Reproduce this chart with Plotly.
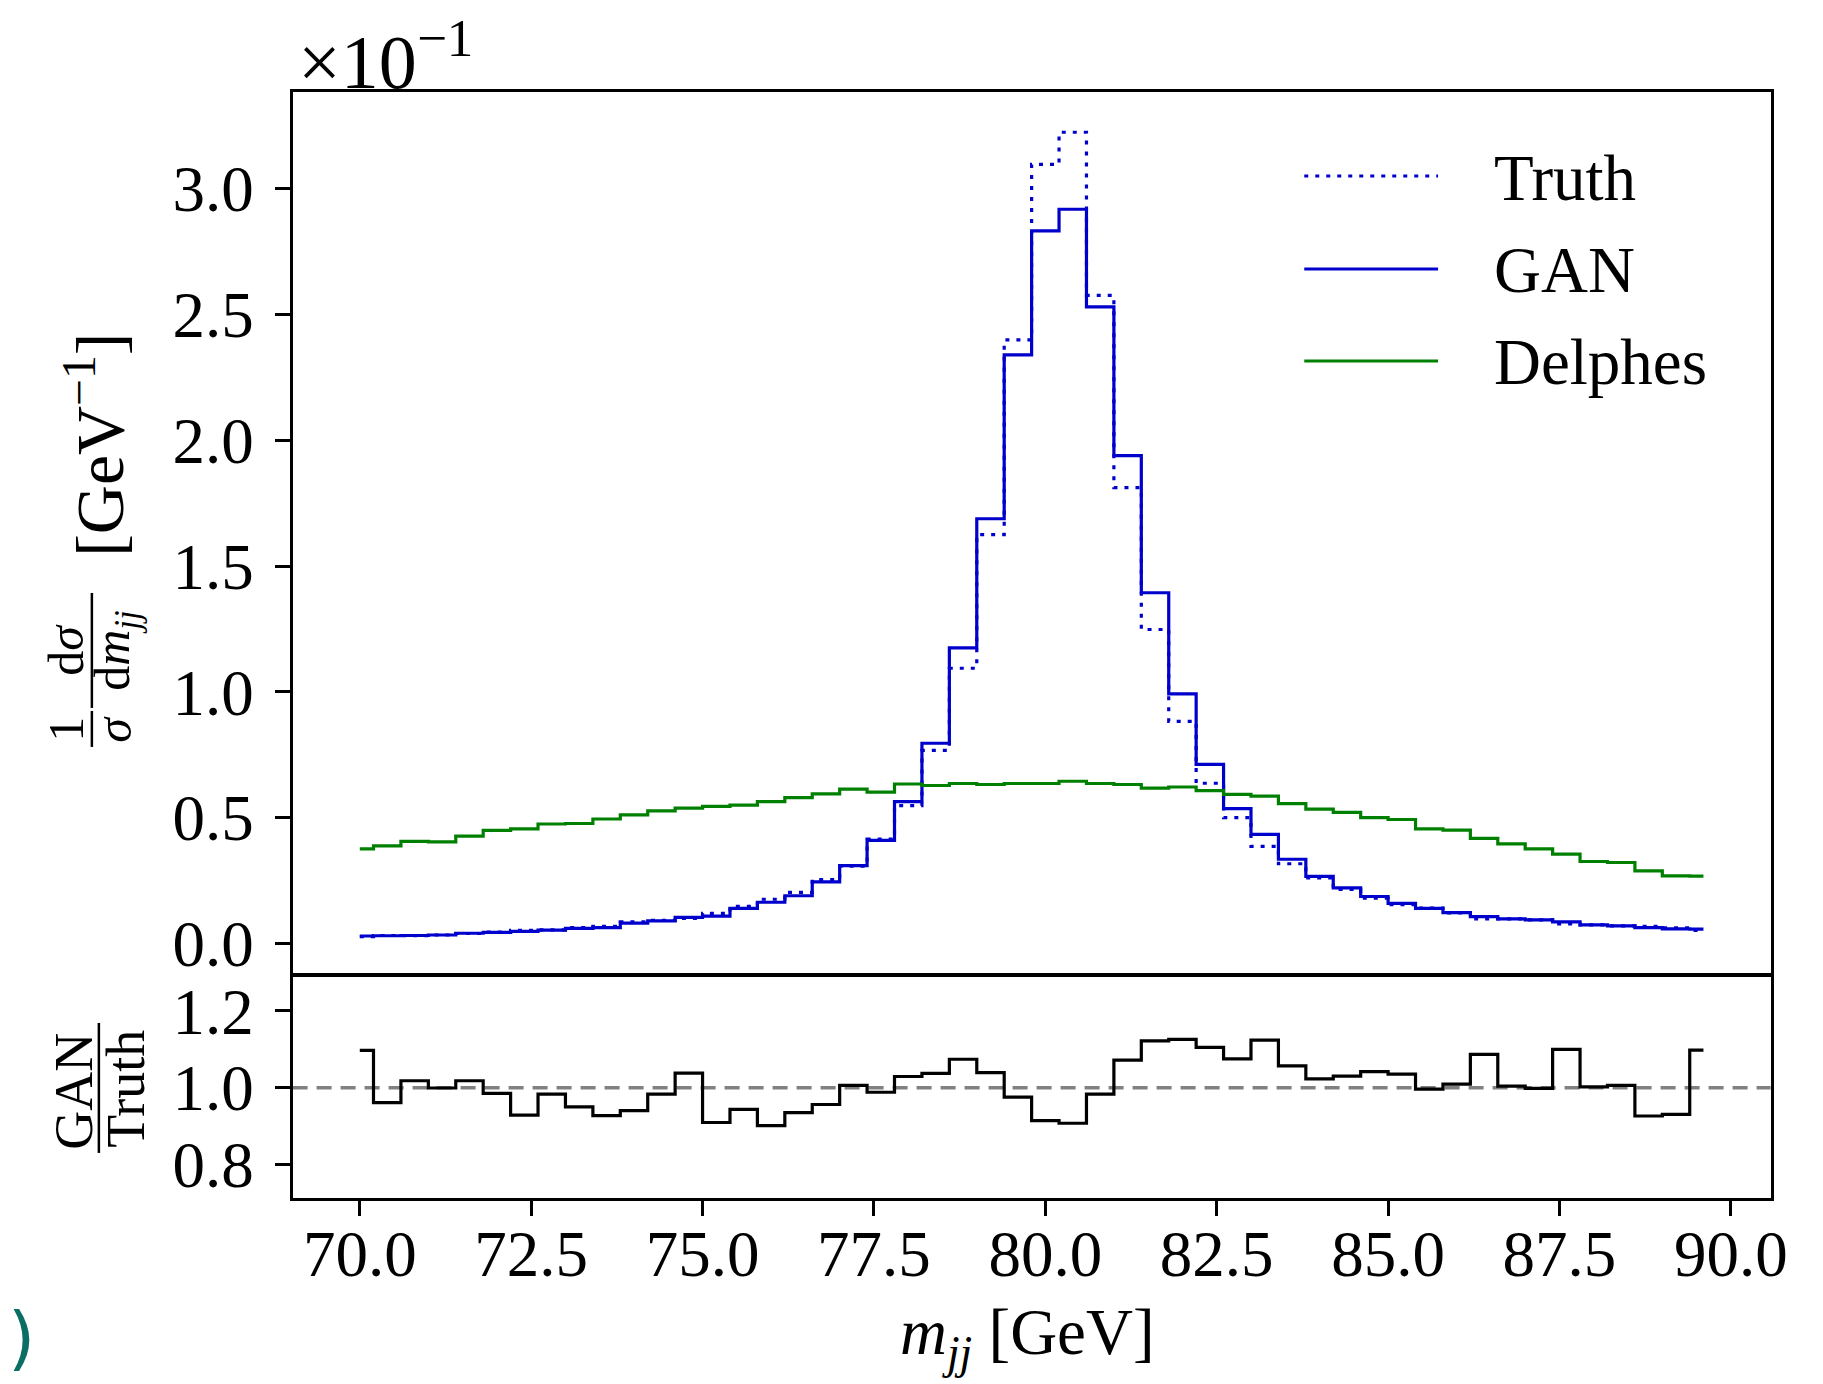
import plotly.graph_objects as go

# ---------------- data ----------------
mjj = [70.0, 70.4, 70.8, 71.2, 71.6, 72.0, 72.4, 72.8, 73.2, 73.6,
       74.0, 74.4, 74.8, 75.2, 75.6, 76.0, 76.4, 76.8, 77.2, 77.6,
       78.0, 78.4, 78.8, 79.2, 79.6, 80.0, 80.4, 80.8, 81.2, 81.6,
       82.0, 82.4, 82.8, 83.2, 83.6, 84.0, 84.4, 84.8, 85.2, 85.6,
       86.0, 86.4, 86.8, 87.2, 87.6, 88.0, 88.4, 88.8, 89.2, 89.6]

truth = [0.027, 0.032, 0.031, 0.034, 0.040, 0.045, 0.052, 0.054, 0.063, 0.068,
         0.086, 0.092, 0.100, 0.120, 0.148, 0.176, 0.203, 0.254, 0.308, 0.415,
         0.548, 0.768, 1.094, 1.625, 2.399, 3.096, 3.224, 2.576, 1.812, 1.248,
         0.883, 0.637, 0.500, 0.386, 0.317, 0.261, 0.215, 0.180, 0.155, 0.141,
         0.122, 0.098, 0.098, 0.094, 0.078, 0.074, 0.070, 0.068, 0.062, 0.052]

gan = [0.030, 0.031, 0.032, 0.034, 0.041, 0.044, 0.048, 0.053, 0.060, 0.063,
       0.081, 0.090, 0.104, 0.109, 0.140, 0.164, 0.190, 0.245, 0.310, 0.410,
       0.564, 0.796, 1.175, 1.688, 2.339, 2.832, 2.918, 2.530, 1.939, 1.394,
       0.992, 0.712, 0.536, 0.434, 0.335, 0.267, 0.221, 0.187, 0.160, 0.140,
       0.123, 0.107, 0.098, 0.094, 0.086, 0.074, 0.070, 0.063, 0.058, 0.057]

delphes = [0.376, 0.388, 0.406, 0.404, 0.427, 0.450, 0.456, 0.475, 0.477, 0.495,
           0.511, 0.527, 0.538, 0.545, 0.550, 0.564, 0.580, 0.595, 0.614, 0.602,
           0.634, 0.628, 0.636, 0.632, 0.636, 0.636, 0.645, 0.636, 0.632, 0.618,
           0.622, 0.608, 0.593, 0.586, 0.556, 0.534, 0.521, 0.500, 0.493, 0.456,
           0.451, 0.418, 0.396, 0.376, 0.355, 0.326, 0.322, 0.289, 0.269, 0.268]

ratio = [1.097, 0.961, 1.018, 0.999, 1.018, 0.985, 0.928, 0.983, 0.950, 0.927,
         0.940, 0.983, 1.038, 0.909, 0.943, 0.901, 0.935, 0.956, 1.006, 0.988,
         1.029, 1.037, 1.074, 1.039, 0.975, 0.914, 0.907, 0.983, 1.072, 1.122,
         1.126, 1.105, 1.075, 1.124, 1.057, 1.023, 1.030, 1.042, 1.035, 0.996,
         1.009, 1.087, 1.004, 0.998, 1.100, 1.002, 1.006, 0.926, 0.930, 1.098]

x_ticks = [70.0, 72.5, 75.0, 77.5, 80.0, 82.5, 85.0, 87.5, 90.0]
x_ticktext = ["70.0", "72.5", "75.0", "77.5", "80.0", "82.5", "85.0", "87.5", "90.0"]
y_ticks = [0.0, 0.5, 1.0, 1.5, 2.0, 2.5, 3.0]
y_ticktext = ["0.0", "0.5", "1.0", "1.5", "2.0", "2.5", "3.0"]
r_ticks = [0.8, 1.0, 1.2]
r_ticktext = ["0.8", "1.0", "1.2"]

# ---------------- layout helpers ----------------
W, H = 1823, 1384
SX, SY = 0.992, 0.995   # compensation for the capture's slight downscale
def fx(p):
    return p / (SX * W)
def fy(p):
    return 1 - p / (SY * H)

FONT = "Liberation Serif"
BLUE = "#0000cc"
GREEN = "#008000"
TS = 65
LW = 3.2

fig = go.Figure()
fig.add_trace(go.Scatter(x=mjj, y=truth, mode="lines", name="Truth",
                         line=dict(shape="hvh", color=BLUE, width=LW, dash="4px,7px"),
                         xaxis="x", yaxis="y"))
fig.add_trace(go.Scatter(x=mjj, y=gan, mode="lines", name="GAN",
                         line=dict(shape="hvh", color=BLUE, width=LW),
                         xaxis="x", yaxis="y"))
fig.add_trace(go.Scatter(x=mjj, y=delphes, mode="lines", name="Delphes",
                         line=dict(shape="hvh", color=GREEN, width=LW),
                         xaxis="x", yaxis="y"))
fig.add_trace(go.Scatter(x=mjj, y=ratio, mode="lines", name="GAN/Truth",
                         line=dict(shape="hvh", color="black", width=LW),
                         xaxis="x2", yaxis="y2"))

axis_common = dict(showline=True, mirror=True, linecolor="black", linewidth=2.7,
                   showgrid=False, zeroline=False,
                   tickcolor="black", tickwidth=2.5, ticklen=15)
tickfont = dict(family=FONT, size=TS, color="black")

xdom = [fx(293), fx(1773)]
xr = [69.02, 90.58]

fig.update_layout(
    width=W, height=H, autosize=False,
    margin=dict(l=0, r=0, t=0, b=0),
    paper_bgcolor="white", plot_bgcolor="white",
    showlegend=False,
    font=dict(family=FONT, color="black"),
    xaxis=dict(domain=xdom, range=xr, anchor="y", showticklabels=False, ticks="",
               **axis_common),
    yaxis=dict(domain=[fy(973.65), fy(92)], range=[-0.1194, 3.384], anchor="x",
               tickmode="array", tickvals=y_ticks, ticktext=y_ticktext,
               ticks="outside", ticklabelstandoff=8, tickfont=tickfont, **axis_common),
    xaxis2=dict(domain=xdom, range=xr, anchor="y2", matches="x",
                tickmode="array", tickvals=x_ticks, ticktext=x_ticktext,
                ticks="outside", ticklabelstandoff=-18, tickfont=tickfont, **axis_common),
    yaxis2=dict(domain=[fy(1198), fy(976.35)], range=[0.7122, 1.2905], anchor="x2",
                tickmode="array", tickvals=r_ticks, ticktext=r_ticktext,
                ticks="outside", ticklabelstandoff=8, tickfont=tickfont, **axis_common),
)

# reference line at ratio = 1
fig.add_shape(type="line", xref="x2 domain", x0=0, x1=1, yref="y2", y0=1, y1=1,
              line=dict(color="#808080", width=3.5, dash="15px,9px"), layer="below")

annotations = []
shapes = []

# legend (custom, to match long line samples)
legend_items = [("Truth", dict(color=BLUE, width=LW, dash="4px,7px"), 176, 178),
                ("GAN", dict(color=BLUE, width=LW), 269, 270),
                ("Delphes", dict(color=GREEN, width=LW), 361, 362)]
for label, ln, ly, ty in legend_items:
    shapes.append(dict(type="line", xref="paper", yref="paper",
                       x0=fx(1306), x1=fx(1440), y0=fy(ly), y1=fy(ly), line=ln))
    annotations.append(dict(text=label, xref="paper", yref="paper", x=fx(1494), y=fy(ty),
                            xanchor="left", yanchor="middle", showarrow=False,
                            font=dict(family=FONT, size=TS, color="black")))

# offset text
annotations.append(dict(text="×10<sup>−1</sup>", xref="paper", yref="paper",
                        x=fx(296), y=fy(57), xanchor="left", yanchor="middle",
                        showarrow=False, font=dict(family=FONT, size=76, color="black")))

# y-axis label of main panel (rotated, built from pieces)
FS = 50
def rot(text, x, y, size):
    return dict(text=text, xref="paper", yref="paper", x=fx(x), y=fy(y),
                xanchor="center", yanchor="middle", textangle=-90, showarrow=False,
                font=dict(family=FONT, size=size, color="black"))
annotations += [
    rot("1", 66, 729, FS),
    rot("<i>σ</i>", 114, 729, FS),
    rot("d<i>σ</i>", 66, 650, FS),
    rot("d<i>m</i><sub><i>jj</i></sub>", 116, 650, FS),
    rot("[GeV<sup>−1</sup>]", 96, 445, 68),
    rot("GAN", 74, 1091, 54),
    rot("Truth", 126, 1089, 54),
]
shapes += [
    dict(type="line", xref="paper", yref="paper", x0=fx(92), x1=fx(92),
         y0=fy(711), y1=fy(747), line=dict(color="black", width=2.5)),
    dict(type="line", xref="paper", yref="paper", x0=fx(92), x1=fx(92),
         y0=fy(593), y1=fy(708), line=dict(color="black", width=2.5)),
    dict(type="line", xref="paper", yref="paper", x0=fx(99), x1=fx(99),
         y0=fy(1023), y1=fy(1153), line=dict(color="black", width=2.5)),
]

# x-axis label
annotations.append(dict(text="<i>m</i><sub><i>jj</i></sub> [GeV]", xref="paper", yref="paper",
                        x=fx(1029), y=fy(1337), xanchor="center", yanchor="middle",
                        showarrow=False, font=dict(family=FONT, size=TS, color="black")))

# stray caption fragment at bottom-left
annotations.append(dict(text=")", xref="paper", yref="paper", x=fx(6), y=fy(1338),
                        xanchor="left", yanchor="middle", showarrow=False,
                        font=dict(family="DejaVu Sans", size=70, color="#0a6e64")))

for s in shapes:
    fig.add_shape(**s)
fig.update_layout(annotations=annotations)

fig.write_html(
    "out.html",
    config={"displayModeBar": False, "responsive": False},
    post_script=(
        "document.documentElement.style.margin='0px';"
        "document.documentElement.style.overflow='hidden';"
        "document.body.style.margin='0px';"
        "document.body.style.padding='0px';"
        "document.body.style.overflow='hidden';"
    ),
)
